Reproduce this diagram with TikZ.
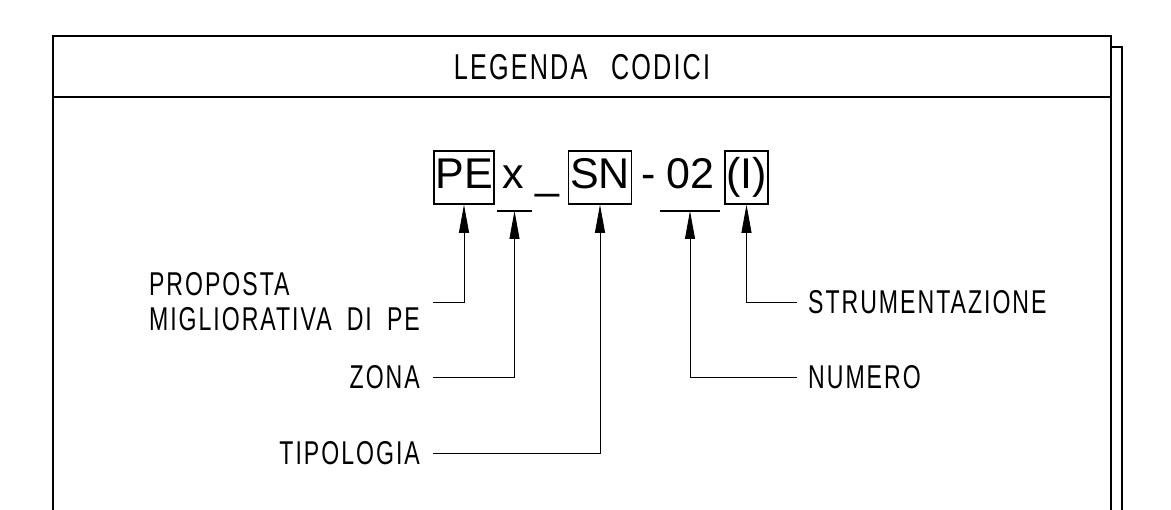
\documentclass[tikz,border=0pt]{standalone}
\usepackage{fontspec}
\setmainfont{Liberation Sans}
\newfontfamily\cadfont[FakeStretch=0.7,LetterSpace=6,WordSpace=1.8]{Liberation Sans}
\usetikzlibrary{arrows.meta}

\begin{document}
\begin{tikzpicture}[x=1pt,y=-1pt,
  frame/.style={line width=1.6pt},
  codebox/.style={draw,line width=1.6pt,font=\fontsize{43}{50}\selectfont,inner xsep=1.5pt,inner ysep=0pt,text height=38pt,text depth=15pt},
  code/.style={font=\fontsize{43}{50}\selectfont,inner sep=0pt},
  lab/.style={font=\cadfont\fontsize{33}{35}\selectfont,inner ysep=0pt},
  leader/.style={line width=0.8pt,-{Triangle[length=28pt,width=10pt]}}]
\useasboundingbox (0,0) rectangle (1171,510);
% frame
\draw[frame] (53,510) -- (53,36) -- (1111,36) -- (1111,510);
\draw[frame] (1111,47) -- (1122,47) -- (1122,510);
\draw[frame] (53,97) -- (1111,97);
\node[font=\cadfont\fontsize{36}{40}\selectfont] (title) at (582,67) {LEGENDA\hspace{0.2em} CODICI};
% code
\node[codebox,anchor=base] (pe) at (464,189) {PE};
\node[code,anchor=base] (zx) at (513,189) {x};
\node[code,anchor=base] (usc) at (547,189) {\_};
\node[codebox,anchor=base] (sn) at (600,189) {SN};
\node[code,anchor=base] (dash) at (649,189) {-};
\node[code,anchor=base] (num) at (690.5,189) {02};
\node[codebox,anchor=base] (ist) at (746.5,189) {(I)};
\coordinate (xbar) at (514.5,211);
\coordinate (numbar) at (690,211);
\draw[line width=1.6pt] ([xshift=-17.5pt]xbar) -- ([xshift=17.5pt]xbar);
\draw[line width=1.6pt] ([xshift=-30pt]numbar) -- ([xshift=30pt]numbar);
% labels
\node[lab,anchor=east,align=left,inner xsep=13pt] (prop) at (433,302) {PROPOSTA\\MIGLIORATIVA DI PE};
\node[lab,anchor=east,inner xsep=13pt] (zona) at (433,377) {ZONA};
\node[lab,anchor=east,inner xsep=13pt] (tipo) at (433,453) {TIPOLOGIA};
\node[lab,anchor=west,inner xsep=11pt] (strum) at (797,302) {STRUMENTAZIONE};
\node[lab,anchor=west,inner xsep=11pt] (numero) at (797,377) {NUMERO};
% leaders
\draw[leader] (prop.east) -| (pe.south);
\draw[leader] (zona.east) -| (xbar);
\draw[leader] (tipo.east) -| (sn.south);
\draw[leader] (numero.west) -| (numbar);
\draw[leader] (strum.west) -| (ist.south);
\end{tikzpicture}
\end{document}
